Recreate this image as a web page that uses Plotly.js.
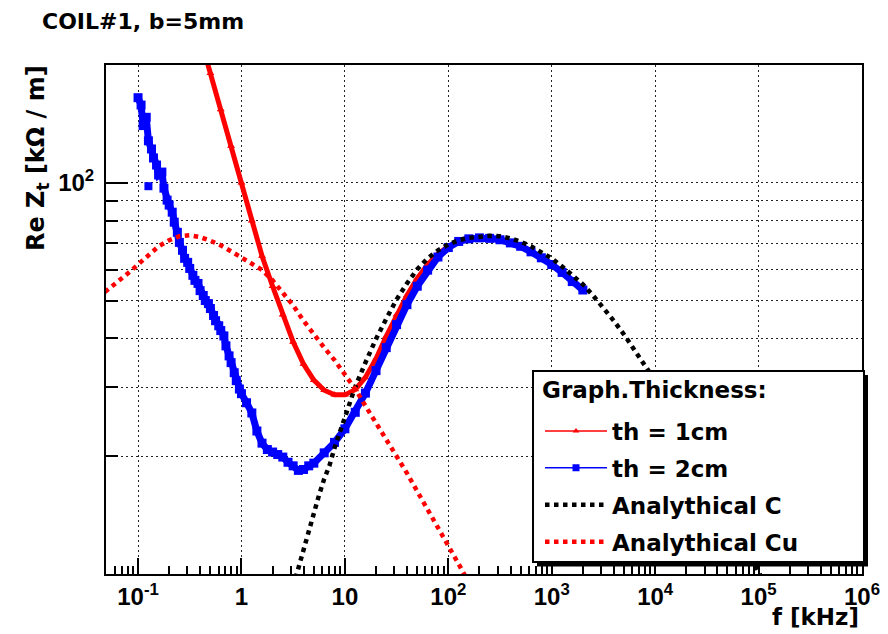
<!DOCTYPE html>
<html><head><meta charset="utf-8">
<script src="https://cdn.plot.ly/plotly-3.0.1.min.js"></script>
<style>html,body{margin:0;padding:0;background:#fff}#chart{width:888px;height:634px}</style>
</head><body><div id="chart"></div>
<script>
// ---- data (frequency in kHz, Re Zt in kOhm/m) ----
const th1Freq = [0.398,0.501,0.631,0.794,1,1.26,1.58,2,2.51,3.16,3.98,5.01,6.31,7.94,10,12.6,15.8,20,25.1,31.6,39.8,50.1,63.1,79.4,100,126,158,200,251,316,398,501,631,794,1000,1260,1580,2000];
const th1Z    = [236,190.5,153.9,124.2,100,80.0,65.0,54.4,46.0,39.2,34.4,31.3,29.5,28.7,28.7,29.6,31.8,35.5,40.5,46.0,51.5,57.0,61.8,65.8,68.8,70.8,71.8,72.2,72.1,71.6,70.3,68.9,66.7,64.4,62.0,59.1,56.1,53.3];

const th2Freq = [0.1,0.107,0.112,0.120,0.126,0.135,0.141,0.151,0.158,0.170,0.178,0.191,0.200,0.214,0.224,0.240,0.251,0.269,0.282,0.302,0.316,0.339,0.355,0.380,0.398,0.427,0.447,0.479,0.501,0.537,0.562,0.603,0.631,0.676,0.708,0.759,0.794,0.851,0.891,0.955,1,1.12,1.26,1.41,1.58,1.78,2.0,2.24,2.51,2.82,3.16,3.55,3.98,4.47,5.01,6.31,7.94,10,12.6,15.8,20,25.1,31.6,39.8,50.1,63.1,79.4,100,126,158,200,251,316,398,501,631,794,1000,1260,1580,2000];
const th2Z    = [165,158,140,147,128,122,115.7,111,104.7,106.5,96.9,90.3,87.7,84.1,79.3,74.7,70.4,67.2,64.1,62.6,60.4,58.0,56.3,55.3,53.0,51.5,50.0,49.1,47.7,45.8,44.4,43.1,41.9,40.6,38.3,36.1,34.7,32.7,31.2,29.7,28.9,27.4,25.8,23.2,21.6,20.8,20.5,20.2,19.9,19.3,18.9,18.4,18.5,18.9,19.2,20.4,21.7,23.5,25.9,29.0,33.1,37.9,43.4,48.8,54.4,59.8,64.6,68.3,70.8,71.9,72.3,72.1,71.5,70.2,68.8,66.6,64.3,61.8,59.0,55.9,53.2];

const anCFreq = [3.16,3.55,3.98,4.47,5.01,5.62,6.31,7.08,7.94,8.91,10,11.2,12.6,15.8,20,25.1,31.6,39.8,50.1,63.1,79.4,100,126,158,200,251,316,398,501,631,794,1000,1260,1580,2000,2510,3160,3980,5010,6310,7940,10000,15800,31600,63100,100000,126000];
const anCZ    = [9.28,10.4,11.5,13.0,14.3,15.9,17.5,18.9,21.0,22.9,25.3,27.7,30.1,34.7,39.9,44.9,50.3,55.3,60.1,64.1,67.2,69.6,71.3,72.3,73.0,73.2,73.0,72.1,70.7,68.8,66.4,64.1,61.1,58.0,55.0,51.5,48.0,44.4,40.9,37.4,34.3,31.2,25.3,18.3,12.8,10.1,9.0];

const anCuFreq = [0.0479,0.0631,0.0794,0.1,0.126,0.158,0.2,0.251,0.316,0.398,0.501,0.631,0.794,1,1.26,1.58,2,2.51,3.16,3.98,5.01,6.31,7.94,10,12.6,15.8,20,25.1,31.6,39.8,50.1,63.1,79.4,100,126,158];
const anCuZ    = [52.6,55.6,58.6,61.8,65.2,68.8,71.3,73.0,73.4,72.6,71.1,69.2,66.8,64.5,62.2,59.9,56.3,52.4,48.6,44.4,40.9,37.9,35.2,32.4,29.7,26.9,24.4,22.1,20.0,18.1,16.3,14.7,13.2,11.8,10.6,9.5];

// isolated outlier square of the th = 2cm scan
const th2OutFreq = [0.126];
const th2OutZ = [98];

const seriesNames = ['th = 1cm','th = 2cm','Analythical C','Analythical Cu'];
const legendTitle = 'Graph.Thickness:';
const xTickVals = [0.1,1,10,100,1000,1e4,1e5,1e6];
const xTickText = ['10<sup>-1</sup>','1','10','10<sup>2</sup>','10<sup>3</sup>','10<sup>4</sup>','10<sup>5</sup>','10<sup>6</sup>'];
const yTickVals = [100];
const yTickText = ['10<sup>2</sup>'];
const yMinorVals = [20,30,40,50,60,70,80,90];

// minor x tick positions (2..9 per decade)
const xMinorVals = [];
for (let d = -2; d <= 5; d++) for (let k = 2; k <= 9; k++) xMinorVals.push(k * Math.pow(10, d));

const TXT = '"DejaVu Sans", sans-serif';
const TICK = '"Liberation Sans", Arial, sans-serif';
const RED = '#ff0000', BLUE = '#0000ff';

const traces = [
  {x: th1Freq, y: th1Z, mode: 'lines+markers', line: {color: RED, width: 5},
   marker: {symbol: 'triangle-up', size: 7, color: RED}, showlegend: false, hoverinfo: 'skip'},
  {x: th1Freq, y: th1Z, mode: 'lines+markers', name: seriesNames[0], legendgroup: 'g1',
   line: {color: RED, width: 1.5}, marker: {symbol: 'triangle-up', size: 6, color: RED}},
  {x: th2Freq, y: th2Z, mode: 'lines+markers', line: {color: BLUE, width: 7},
   marker: {symbol: 'square', size: 9, color: BLUE}, showlegend: false, hoverinfo: 'skip'},
  {x: th2OutFreq, y: th2OutZ, mode: 'markers', marker: {symbol: 'square', size: 8, color: BLUE},
   showlegend: false, hoverinfo: 'skip'},
  {x: th2Freq, y: th2Z, mode: 'lines+markers', name: seriesNames[1], legendgroup: 'g2',
   line: {color: BLUE, width: 1.5}, marker: {symbol: 'square', size: 7, color: BLUE}},
  {x: anCFreq, y: anCZ, mode: 'lines', name: seriesNames[2], legendgroup: 'g3',
   line: {color: '#000', width: 4.5, dash: 'dot'}},
  {x: anCuFreq, y: anCuZ, mode: 'lines', name: seriesNames[3], legendgroup: 'g4',
   line: {color: RED, width: 4.5, dash: 'dot'}}
];

const PW = 756, PH = 509, L = 106, T = 65;
const px = v => (v - L) / PW;
const py = v => (T + PH - v) / PH;

const layout = {
  width: 888, height: 634,
  margin: {l: 106, r: 26, t: 65, b: 60, pad: 0},
  paper_bgcolor: '#fff', plot_bgcolor: '#fff',
  title: {text: 'COIL#1, b=5mm', font: {family: TXT, size: 22, weight: 'bold', color: '#000'},
          xref: 'container', yref: 'container', x: 42 / 888, xanchor: 'left', y: 1 - 21 / 634, yanchor: 'middle'},
  xaxis: {type: 'log', range: [Math.log10(0.049), 6], showline: true, linecolor: '#000', linewidth: 2, mirror: true,
          ticks: 'inside', ticklen: 16, tickwidth: 1.5, tickcolor: '#000',
          tickmode: 'array', tickvals: xTickVals, ticktext: xTickText,
          tickfont: {family: TICK, size: 24, weight: 'bold', color: '#000'},
          showgrid: true, gridcolor: '#222', gridwidth: 1, griddash: '2px,3px', zeroline: false,
          minor: {tickmode: 'array', tickvals: xMinorVals, ticks: 'inside', ticklen: 8, tickwidth: 1.5, tickcolor: '#000', showgrid: false}},
  yaxis: {type: 'log', range: [1, Math.log10(200)], showline: true, linecolor: '#000', linewidth: 2, mirror: true,
          ticks: 'inside', ticklen: 22, tickwidth: 1.5, tickcolor: '#000',
          tickmode: 'array', tickvals: yTickVals, ticktext: yTickText, ticklabelstandoff: 5,
          tickfont: {family: TICK, size: 24, weight: 'bold', color: '#000'},
          showgrid: true, gridcolor: '#222', gridwidth: 1, griddash: '2px,3px', zeroline: false,
          minor: {tickmode: 'array', tickvals: yMinorVals, ticks: 'inside', ticklen: 12, tickwidth: 1.5, tickcolor: '#000',
                  showgrid: true, gridcolor: '#222', gridwidth: 1, griddash: '2px,3px'}},
  showlegend: true,
  legend: {x: px(540), y: py(409.5), xanchor: 'left', yanchor: 'top', bgcolor: 'rgba(0,0,0,0)', borderwidth: 0,
           font: {family: TXT, size: 23, weight: 'bold', color: '#000'},
           itemwidth: 62, tracegroupgap: 4, traceorder: 'grouped'},
  shapes: [
    {type: 'rect', xref: 'paper', yref: 'paper', x0: px(537), x1: px(868), y0: py(566.5), y1: py(375),
     fillcolor: '#000', line: {width: 0}, layer: 'above'},
    {type: 'rect', xref: 'paper', yref: 'paper', x0: px(533), x1: px(864), y0: py(562), y1: py(371),
     fillcolor: '#fff', line: {color: '#000', width: 2}, layer: 'above'}
  ],
  annotations: [
    {text: legendTitle, xref: 'paper', yref: 'paper', x: px(540), y: py(390), xanchor: 'left', yanchor: 'middle',
     showarrow: false, font: {family: TXT, size: 23, weight: 'bold', color: '#000'}},
    {text: 'Re Z<sub>t</sub> [kΩ / m]', textangle: -90, xref: 'paper', yref: 'paper', x: px(37), y: py(63),
     xanchor: 'center', yanchor: 'top', showarrow: false, font: {family: TXT, size: 24, weight: 'bold', color: '#000'}},
    {text: 'f [kHz]', xref: 'paper', yref: 'paper', x: px(861), y: py(617), xanchor: 'right', yanchor: 'middle',
     showarrow: false, font: {family: TXT, size: 23, weight: 'bold', color: '#000'}}
  ]
};

Plotly.newPlot('chart', traces, layout, {displayModeBar: false, responsive: false});
</script>
</body></html>
